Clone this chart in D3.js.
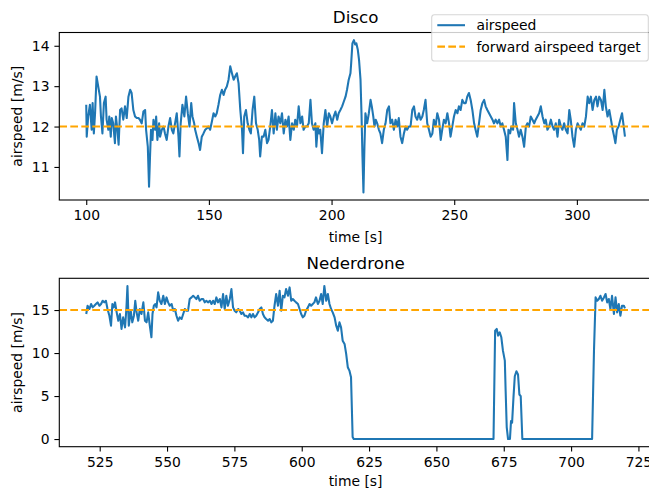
<!DOCTYPE html>
<html><head><meta charset="utf-8">
<script src="https://cdn.jsdelivr.net/npm/d3@7"></script>
<style>body{margin:0;background:#fff} text{font-family:"DejaVu Sans",sans-serif}</style>
</head><body><svg id="c" width="649" height="490"></svg>
<script>
// ---- data ----
const discoAirspeed = [[100.0,12.54],[100.2,11.75],[100.8,12.25],[101.5,12.54],[102.2,11.92],[102.6,12.58],[103.1,11.83],[103.6,12.33],[104.2,13.24],[104.9,12.99],[105.6,12.74],[106.0,12.25],[106.6,11.83],[107.2,12.58],[107.9,12.74],[108.3,12.17],[109.0,11.92],[109.4,12.25],[110.0,11.75],[110.4,12.21],[111.0,12.08],[111.7,11.59],[112.1,12.25],[112.7,11.92],[113.2,11.55],[113.8,12.41],[114.4,12.45],[115.1,12.17],[115.8,12.50],[116.5,12.21],[117.2,12.74],[117.9,12.91],[118.5,12.83],[119.2,12.41],[119.9,12.25],[120.6,12.21],[121.3,12.21],[121.9,12.17],[122.6,12.08],[123.3,12.37],[124.0,12.41],[124.4,11.92],[125.1,11.50],[125.6,10.51],[126.0,11.26],[126.4,11.92],[127.0,11.67],[127.4,12.17],[128.1,11.92],[128.5,12.25],[129.0,11.67],[129.7,12.08],[130.1,11.75],[130.8,11.92],[131.5,12.00],[132.1,11.83],[132.8,11.67],[133.5,12.00],[134.2,12.21],[134.9,11.92],[135.5,11.83],[136.2,12.08],[136.9,12.33],[137.6,11.75],[138.0,11.26],[138.5,12.08],[139.2,12.54],[140.0,12.25],[140.7,12.74],[141.4,12.33],[142.1,12.00],[142.8,12.58],[143.3,12.25],[144.0,12.08],[144.4,11.92],[145.1,11.75],[145.8,11.59],[146.4,11.42],[147.1,11.75],[147.8,11.83],[148.5,11.92],[149.2,11.96],[149.8,12.00],[150.5,11.92],[151.2,12.12],[151.9,12.33],[152.6,12.25],[153.2,12.33],[153.9,12.54],[154.6,12.78],[155.3,12.91],[156.0,12.78],[156.6,12.91],[157.3,12.99],[158.0,13.16],[158.7,13.49],[159.4,13.32],[160.1,13.16],[160.7,13.24],[161.4,13.32],[162.1,13.07],[162.8,12.41],[163.5,11.92],[163.9,11.34],[164.4,12.25],[165.1,12.41],[165.8,12.08],[166.5,11.92],[167.1,11.83],[167.8,12.41],[168.5,12.74],[169.2,12.08],[169.9,11.92],[170.5,11.67],[170.9,11.26],[171.6,11.75],[172.3,11.75],[173.0,11.92],[173.7,11.59],[174.3,11.67],[175.0,12.00],[175.7,12.41],[176.4,11.83],[177.1,12.33],[177.7,11.92],[178.4,12.25],[179.1,12.08],[179.8,12.33],[180.5,11.83],[181.2,12.17],[181.8,12.00],[182.5,12.25],[183.2,11.67],[183.9,12.08],[184.6,11.92],[185.2,12.17],[185.9,12.00],[186.6,12.50],[187.3,12.08],[188.0,12.25],[188.6,11.92],[189.3,12.00],[190.0,12.00],[190.7,12.08],[191.4,12.66],[192.0,12.08],[192.7,11.92],[193.4,12.08],[193.8,11.50],[194.4,12.00],[194.9,11.83],[195.4,11.92],[196.1,11.34],[196.8,12.08],[197.5,12.41],[198.2,12.00],[198.9,12.33],[199.5,12.25],[200.2,12.08],[200.9,12.25],[201.6,12.37],[202.3,12.17],[202.9,12.33],[203.6,12.41],[204.3,12.50],[205.0,12.62],[205.7,12.74],[206.3,12.91],[207.0,13.16],[207.7,13.32],
[208.0,13.57],[208.5,14.06],[209.1,14.14],[209.6,14.03],[210.1,14.06],[210.7,13.90],[211.2,13.65],[211.8,13.16],[212.2,12.33],[212.6,11.26],[213.0,10.37],[213.4,11.50],[213.8,12.33],[214.5,12.08],[215.2,12.33],[215.9,12.66],[216.4,12.50],[217.0,12.25],[217.5,12.00],[218.0,12.17],[218.6,12.08],[219.3,11.92],[219.9,11.83],[220.6,11.59],[221.3,11.92],[222.0,12.08],[222.7,12.41],[223.4,12.50],[224.0,12.08],[224.7,12.17],[225.4,11.92],[226.1,12.17],[226.8,12.00],[227.4,12.21],[228.1,11.75],[228.8,11.59],[229.5,11.83],[230.2,12.00],[230.8,11.92],[231.5,12.00],[232.2,12.00],[232.9,12.41],[233.6,12.50],[234.2,12.25],[234.9,12.17],[235.6,12.33],[236.3,12.17],[237.0,12.25],[237.6,12.41],[238.3,12.66],[239.0,12.08],[239.7,11.92],[240.4,11.75],[241.1,11.83],[241.7,12.17],[242.4,12.00],[243.1,12.33],[243.8,12.17],[244.5,11.67],[245.1,11.92],[245.8,12.17],[246.5,12.08],[247.2,12.33],[247.9,12.08],[248.5,11.75],[249.2,12.00],[249.9,12.25],[250.6,12.41],[251.3,12.33],[251.9,12.50],[252.6,12.41],[253.3,12.66],[254.0,12.58],[254.7,12.58],[255.3,12.74],[256.0,12.83],[256.7,12.66],[257.4,12.41],[258.1,12.08],[258.7,11.92],[259.4,11.75],[260.1,12.08],[260.8,12.41],[261.5,12.58],[262.2,12.66],[262.8,12.50],[263.5,12.41],[264.2,12.33],[264.9,12.25],[265.6,12.17],[266.2,12.08],[266.9,12.17],[267.6,12.08],[268.3,12.17],[269.0,12.00],[269.6,12.08],[270.3,11.92],[271.0,11.75],[271.7,11.17],[272.1,11.92],[272.8,11.83],[273.3,12.00],[274.0,11.92],[274.4,12.58],[275.1,12.08],[275.8,11.92],[276.4,11.75],[277.1,11.92],[277.8,11.75],[278.5,11.50],[279.2,12.00],[279.8,12.08],[280.5,12.00],[281.2,12.25],[281.9,12.17],[282.6,12.08],[283.2,12.17],[283.9,12.25],[284.6,12.33],[285.3,12.50],[286.0,12.25],[286.7,12.08],[287.3,12.17],[288.0,11.92],[288.7,12.00],[289.4,12.17],[290.1,12.00],[290.7,11.92],[291.4,12.08],[292.1,11.75],[292.8,12.17],[293.5,12.00],[294.1,11.92],[294.8,12.08],[295.5,11.92],[296.2,11.83],[296.9,12.41],[297.5,12.17],[298.2,11.75],[298.9,11.50],[299.6,11.92],[300.3,12.08],[300.9,12.00],[301.6,11.92],[302.3,12.08],[303.0,12.00],[303.7,12.25],[304.4,12.74],[305.0,12.58],[305.7,12.74],[306.4,12.41],[307.1,12.66],[307.8,12.74],[308.4,12.50],[309.1,12.74],[309.8,12.66],[310.5,12.41],[311.2,12.91],[311.8,12.50],[312.5,12.25],[313.2,12.41],[313.9,12.17],[314.6,11.92],[315.2,11.75],[315.7,11.59],[316.3,11.92],[317.0,12.00],[317.7,12.17],[318.4,12.33],[319.1,12.00],[319.6,11.75]];

const nederAirspeed = [[520.0,14.54],[520.2,14.92],[520.5,15.50],[521.2,15.12],[521.8,15.70],[522.4,15.31],[523.0,15.50],[523.6,15.70],[524.2,15.89],[524.9,15.50],[525.5,15.70],[526.1,16.08],[526.7,15.89],[527.3,16.08],[527.9,15.12],[528.6,14.34],[529.2,13.18],[529.7,15.70],[530.2,15.31],[530.7,15.89],[531.3,14.73],[531.9,13.76],[532.5,14.54],[533.1,12.80],[533.7,14.15],[534.4,12.99],[534.9,15.12],[535.3,17.80],[535.8,13.18],[536.5,14.92],[537.1,13.57],[537.7,14.34],[538.2,16.08],[538.7,14.73],[539.3,13.76],[539.9,15.12],[540.5,14.54],[541.2,15.89],[541.8,13.76],[542.4,13.57],[543.0,14.73],[543.6,13.18],[544.2,11.83],[544.6,14.54],[545.1,15.50],[545.6,15.70],[546.1,15.31],[546.7,17.05],[547.3,16.08],[547.9,15.70],[548.6,16.66],[549.2,15.70],[549.8,16.47],[550.4,15.89],[551.0,15.50],[551.7,15.70],[552.3,14.92],[552.9,15.12],[553.5,14.34],[554.1,13.76],[554.7,14.15],[555.4,13.96],[556.0,14.54],[556.6,15.12],[557.2,14.92],[557.8,14.92],[558.4,16.28],[559.1,16.47],[559.7,16.66],[560.3,16.47],[560.9,16.28],[561.5,16.66],[562.1,16.08],[562.8,16.28],[563.4,16.28],[564.0,15.89],[564.6,16.08],[565.2,15.89],[565.9,16.08],[566.5,15.70],[567.1,16.08],[567.7,15.70],[568.3,16.47],[568.9,15.89],[569.6,16.28],[570.2,15.31],[570.8,16.86],[571.4,15.12],[572.0,16.66],[572.6,15.50],[573.3,16.28],[573.9,17.44],[574.5,15.31],[575.1,14.92],[575.7,14.73],[576.4,15.12],[577.0,14.92],[577.6,14.54],[578.2,14.73],[578.8,14.34],[579.4,14.34],[580.1,14.15],[580.7,14.54],[581.3,14.15],[581.9,14.54],[582.5,14.15],[583.1,14.34],[583.8,14.73],[584.4,15.12],[585.0,15.31],[585.6,14.54],[586.2,14.15],[586.8,13.96],[587.5,13.76],[588.1,13.96],[588.7,13.57],[589.3,13.76],[589.9,15.50],[590.5,16.86],[591.2,15.50],[591.8,17.24],[592.4,14.92],[593.0,16.66],[593.6,16.47],[594.2,17.44],[594.9,16.66],[595.5,17.63],[596.1,16.08],[596.7,16.28],[597.3,16.08],[597.9,15.89],[598.6,15.70],[599.2,15.12],[599.8,14.54],[600.4,14.15],[601.0,14.34],[601.6,14.92],[602.3,15.31],[602.9,15.70],[603.5,15.50],[604.1,15.70],[604.7,15.89],[605.3,16.47],[606.0,15.70],[606.6,16.08],[607.2,16.86],[607.8,15.70],[608.4,17.80],[609.1,16.08],[609.7,16.86],[610.3,15.70],[610.9,15.12],[611.5,14.73],[612.2,14.15],[612.8,13.18],[613.4,12.60],[614.0,13.57],[614.6,12.99],[615.2,11.44],[615.9,11.06],[616.5,9.90],[617.1,8.35],[617.7,7.96],[618.3,7.19],[618.9,0.23],[619.3,0],[671.2,0],[671.8,12.60],[672.4,12.80],[672.9,12.02],[673.5,12.41],[674.1,11.83],[674.7,10.28],[675.4,9.12],[675.7,5.64],[676.1,1.39],[676.6,0],[677.3,0],[677.7,2.09],[678.1,1.90],[678.6,4.79],[679.1,7.30],[679.7,7.88],[680.3,7.50],[680.8,5.18],[681.3,4.98],[681.9,0],[707.8,0],[708.5,10.28],[709.1,16.47],[709.7,16.08],[710.3,16.28],[710.9,16.66],[711.5,16.08],[712.2,16.47],[712.8,16.86],[713.4,15.89],[714.0,16.28],[714.6,15.12],[715.2,16.66],[715.9,14.54],[716.5,16.47],[717.1,14.73],[717.7,15.70],[718.3,14.34],[718.9,15.50],[719.6,15.50],[720.0,15.20]];

const discoTarget = 12;
const nederTarget = 15;
const discoXTicks = [100, 150, 200, 250, 300];
const discoYTicks = [11, 12, 13, 14];
const nederXTicks = [525, 550, 575, 600, 625, 650, 675, 700, 725];
const nederYTicks = [0, 5, 10, 15];
const panelTitles = ["Disco", "Nederdrone"];
const legendLabels = ["airspeed", "forward airspeed target"];
const xAxisLabel = "time [s]";
const yAxisLabel = "airspeed [m/s]";

// ---- drawing ----
const svg = d3.select("#c");
const BLUE = "#1f77b4", ORANGE = "#ffa500";
const FS = 13.9;
const left = 59.3, right = 651.9;

function padded(ext) { const r = ext[1] - ext[0]; return [ext[0] - 0.05 * r, ext[1] + 0.05 * r]; }

const panels = [
  { data: discoAirspeed, target: discoTarget, xt: discoXTicks, yt: discoYTicks, title: panelTitles[0], top: 32.5, bottom: 200, xlabY: 242 },
  { data: nederAirspeed, target: nederTarget, xt: nederXTicks, yt: nederYTicks, title: panelTitles[1], top: 278.3, bottom: 446.7, xlabY: 486 }
];

panels.forEach((p, i) => {
  const x = d3.scaleLinear().domain(padded(d3.extent(p.data, d => d[0]))).range([left, right]);
  const y = d3.scaleLinear().domain(padded(d3.extent(p.data, d => d[1]))).range([p.bottom, p.top]);
  const g = svg.append("g");
  g.append("clipPath").attr("id", "clip" + i).append("rect")
    .attr("x", left).attr("y", p.top).attr("width", right - left).attr("height", p.bottom - p.top);
  const plot = g.append("g").attr("clip-path", `url(#clip${i})`);
  plot.append("path").datum(p.data)
    .attr("d", d3.line().x(d => x(d[0])).y(d => y(d[1])))
    .attr("fill", "none").attr("stroke", BLUE).attr("stroke-width", 2.08)
    .attr("stroke-linejoin", "round");
  plot.append("line")
    .attr("x1", left).attr("x2", right).attr("y1", y(p.target)).attr("y2", y(p.target))
    .attr("stroke", ORANGE).attr("stroke-width", 2.08).attr("stroke-dasharray", "7.7,3.3");

  const xa = g.append("g").attr("transform", `translate(0,${p.bottom})`)
    .call(d3.axisBottom(x).tickValues(p.xt).tickSize(4.9).tickPadding(5.6).tickFormat(d3.format("d")));
  const ya = g.append("g").attr("transform", `translate(${left},0)`)
    .call(d3.axisLeft(y).tickValues(p.yt).tickSize(4.9).tickPadding(4.9).tickFormat(d3.format("d")));
  [xa, ya].forEach(a => {
    a.select(".domain").remove();
    a.selectAll("line").attr("stroke", "#000").attr("stroke-width", 1.1);
    a.selectAll("text").attr("font-size", FS).attr("fill", "#000").style("font-family", "DejaVu Sans");
  });
  g.append("rect").attr("x", left).attr("y", p.top).attr("width", right - left).attr("height", p.bottom - p.top)
    .attr("fill", "none").attr("stroke", "#000").attr("stroke-width", 1.1);

  g.append("text").attr("x", (left + right) / 2).attr("y", p.top - 9.3)
    .attr("text-anchor", "middle").attr("font-size", 16.7).text(p.title);
  g.append("text").attr("x", (left + right) / 2).attr("y", p.xlabY)
    .attr("text-anchor", "middle").attr("font-size", FS).text(xAxisLabel);
  const cy = (p.top + p.bottom) / 2;
  g.append("text").attr("transform", `translate(21.5,${cy}) rotate(-90)`)
    .attr("text-anchor", "middle").attr("font-size", FS).text(yAxisLabel);
});

// legend
const lg = svg.append("g");
lg.append("rect").attr("x", 431.7).attr("y", 14.7).attr("width", 216.6).attr("height", 46.3)
  .attr("rx", 2.8).attr("fill", "#fff").attr("fill-opacity", 0.8)
  .attr("stroke", "#cccccc").attr("stroke-opacity", 0.8).attr("stroke-width", 1.1);
const rows = [{ c: BLUE, dash: null, y: 25.2 }, { c: ORANGE, dash: "7.7,3.3", y: 46.6 }];
rows.forEach((r, k) => {
  const l = lg.append("line").attr("x1", 437.3).attr("x2", 465).attr("y1", r.y).attr("y2", r.y)
    .attr("stroke", r.c).attr("stroke-width", 2.08);
  if (r.dash) l.attr("stroke-dasharray", r.dash);
  lg.append("text").attr("x", 476.4).attr("y", r.y + 4.9).attr("font-size", FS).text(legendLabels[k]);
});
</script></body></html>
